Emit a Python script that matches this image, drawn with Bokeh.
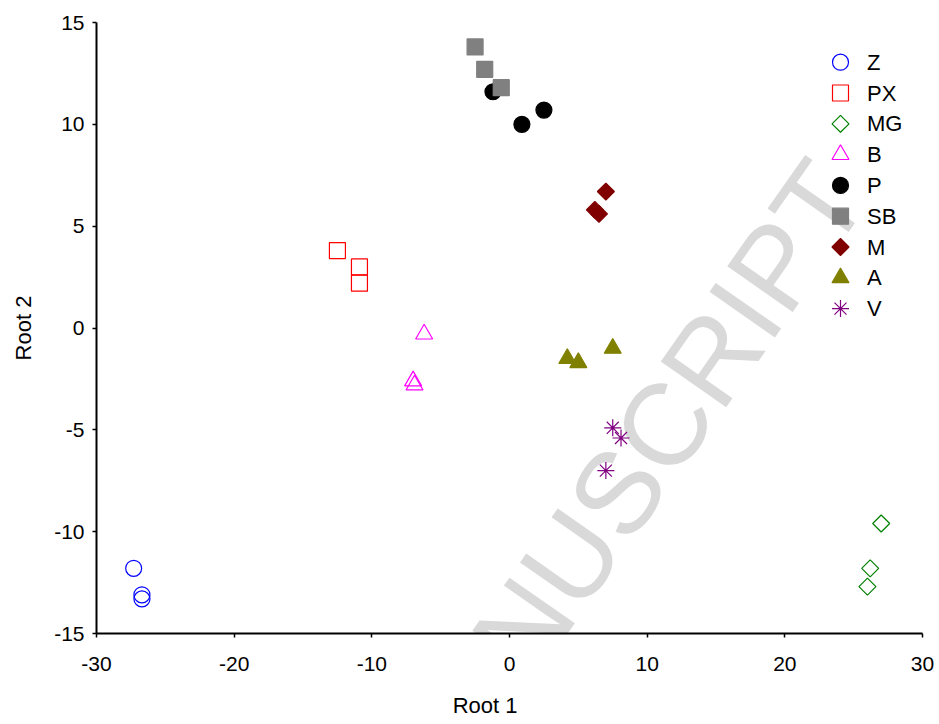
import math
from bokeh.plotting import figure
from bokeh.models import Range1d, FixedTicker, Label
from bokeh.core.properties import value
from bokeh.embed import file_html
from bokeh.resources import INLINE

# ---- data ----
groups = ["Z", "PX", "MG", "B", "P", "SB", "M", "A", "V"]
Z_x = [-27.3, -26.7, -26.7]
Z_y = [-11.8, -13.1, -13.3]
PX_x = [-12.5, -10.9, -10.9]
PX_y = [3.8, 3.0, 2.2]
MG_x = [27.0, 26.2, 26.0]
MG_y = [-9.6, -11.8, -12.7]
B_x = [-6.2, -7.0, -6.9]
B_y = [-0.3, -2.6, -2.8]
P_x = [-1.2, 0.9, 2.5]
P_y = [11.6, 10.0, 10.7]
SB_x = [-2.5, -1.8, -0.6]
SB_y = [13.8, 12.7, 11.8]
M_x = [7.0, 6.2, 6.5]
M_y = [6.7, 5.8, 5.6]
A_x = [7.5, 4.2, 5.0]
A_y = [-1.0, -1.5, -1.7]
V_x = [7.5, 8.1, 7.0]
V_y = [-4.9, -5.4, -7.0]
x_ticks = [-30, -20, -10, 0, 10, 20, 30]
y_ticks = [-15, -10, -5, 0, 5, 10, 15]
x_label = "Root 1"
y_label = "Root 2"
watermark = "MANUSCRIPT"

series_x = [Z_x, PX_x, MG_x, B_x, P_x, SB_x, M_x, A_x, V_x]
series_y = [Z_y, PX_y, MG_y, B_y, P_y, SB_y, M_y, A_y, V_y]

# ---- styles ----
markers = ["circle", "square", "square", "triangle", "circle", "square", "square", "triangle", "asterisk"]
angles_deg = [0, 0, 45, 0, 0, 0, 45, 0, 0]
colors = ["#0000ff", "#ff0000", "#008000", "#ff00ff", "#000000", "#808080", "#800000", "#808000", "#800080"]
filled = [False, False, False, False, True, True, True, True, False]
sizes = [16, 16, 12, 17, 16, 16, 12, 17, 17]
FONT = "Liberation Sans"

FRAME_W, FRAME_H = 826, 611

p = figure(width=936, height=722,
           x_range=Range1d(-30, 30), y_range=Range1d(-15, 15),
           output_backend="svg", toolbar_location=None,
           min_border_left=96, min_border_right=14,
           min_border_top=22, min_border_bottom=89)
p.extra_x_ranges = {"px": Range1d(0, FRAME_W)}
p.extra_y_ranges = {"px": Range1d(FRAME_H, 0)}

p.grid.visible = False
p.outline_line_color = None
p.background_fill_color = "white"
p.border_fill_color = "white"

# watermark (behind everything)
p.add_layout(Label(x=743, y=458, x_units="screen", y_units="screen",
                   text=watermark, angle=math.radians(55),
                   text_align="right", text_baseline="alphabetic",
                   text_font=FONT, text_font_size="116px",
                   text_color="#d9d9d9", level="underlay"))

for ax, ticks in ((p.xaxis, x_ticks), (p.yaxis, y_ticks)):
    ax.ticker = FixedTicker(ticks=ticks)
    ax.major_label_overrides = {t: str(t) for t in ticks}
    ax.axis_line_width = 2
    ax.axis_line_color = "black"
    ax.major_tick_line_color = "black"
    ax.major_tick_line_width = 1.5
    ax.major_tick_out = 4
    ax.major_tick_in = 0
    ax.minor_tick_line_color = None
    ax.major_label_text_font = FONT
    ax.major_label_text_font_size = "21px"
    ax.major_label_text_color = "black"
    ax.axis_label_text_font = FONT
    ax.axis_label_text_font_size = "22px"
    ax.axis_label_text_font_style = "normal"
    ax.axis_label_text_color = "black"

p.xaxis.major_label_standoff = 19
p.yaxis.major_label_standoff = 8
p.yaxis.axis_label = y_label
p.yaxis.axis_label_standoff = 15
# the reference's x label sits left of the frame centre: pad with no-break spaces
p.xaxis.axis_label = x_label + "\u00a0" * 8
p.xaxis.axis_label_standoff = 19

for xs, ys, mk, ang, col, fill, sz in zip(series_x, series_y, markers, angles_deg,
                                          colors, filled, sizes):
    p.scatter(xs, ys, marker=mk, size=sz, angle=math.radians(ang),
              line_color=col, fill_color=col if fill else None,
              line_width=1.2)

# legend drawn in pixel space of the frame
LEG_X, LEG_Y0, LEG_PITCH, LEG_TX = 744, 39.7, 30.8, 770.5
for i, (mk, ang, col, fill, sz) in enumerate(zip(markers, angles_deg, colors, filled, sizes)):
    p.scatter([LEG_X], [LEG_Y0 + i * LEG_PITCH], marker=mk, size=sz,
              angle=math.radians(ang), line_color=col,
              fill_color=col if fill else None, line_width=1.2,
              x_range_name="px", y_range_name="px")
p.text(x=[LEG_TX] * len(groups), y=[LEG_Y0 + i * LEG_PITCH for i in range(len(groups))],
       text=groups, text_font=value(FONT), text_font_size="22px",
       text_baseline="middle", text_align="left", text_color="black",
       x_range_name="px", y_range_name="px")

open("out.html", "w").write(file_html(p, INLINE))
